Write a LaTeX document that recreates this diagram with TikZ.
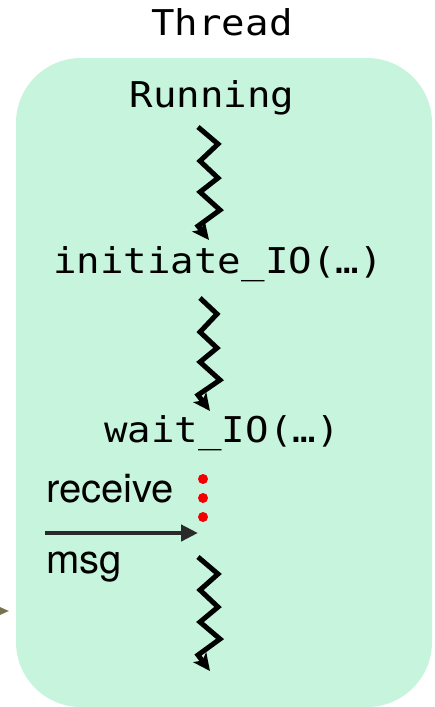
\documentclass[tikz,border=0pt]{standalone}
\usepackage{fontspec}
\setmainfont{TeX Gyre Heros}
\setmonofont[FakeStretch=1.1]{DejaVu Sans Mono}
\usepackage{tikz}
\usetikzlibrary{%
    arrows.meta,
    positioning,
    calc
}
\definecolor{threadFill}{HTML}{C7F4DC}
\definecolor{msgDark}{HTML}{2A2A2A}
\definecolor{inOlive}{HTML}{77714F}
\definecolor{waitRed}{HTML}{F40000}

\begin{document}
\begin{tikzpicture}[x=1pt, y=-1pt,
                code/.style={font=\ttfamily\fontsize{35.5}{40}\selectfont, inner sep=0pt, anchor=base},
                word/.style={font=\fontsize{40}{44}\selectfont, inner sep=0pt, anchor=base west},
                thread/.style={fill=threadFill, draw=none, rounded corners=65pt},
                wiggle/.style={draw, line width=5pt, line join=miter, -{Stealth[length=17pt, width=16pt, inset=4pt]}},
                msg/.style={draw, msgDark, line width=4.5pt, -{Triangle[length=17pt, width=16pt]}},
                incoming/.style={draw, inOlive, line width=2pt, -{Triangle[length=12pt, width=10pt]}}
            ]

            \useasboundingbox (0,0) rectangle (434,707);

            % the thread box
            \draw [thread] (16,58) rectangle (432,707);
            \node (title) [code] at (222,35) {Thread};

            % steps
            \node (run) [code] at (212,107) {Running};
            \node (init) [code] at (218,273) {initiate\_IO(…)};
            \node (wait) [code] at (222,442) {wait\_IO(…)};

            \coordinate (zz1) at (198,127);
            \coordinate (zz2) at (200,298);
            \coordinate (zz3) at (198,557);
            \coordinate (tip1) at (209,240);
            \coordinate (tip2) at (210,411);
            \coordinate (tip3) at (210,671);

            \draw [wiggle] (zz1) -- ++(20,17) -- ++(-18,17) -- ++(18,17) -- ++(-18,14) -- ++(20,18) -- ++(-22,16) -- (tip1);
            \draw [wiggle] (zz2) -- ++(17,16) -- ++(-17,18) -- ++(17,16) -- ++(-17,14) -- ++(20,18) -- ++(-22,15) -- (tip2);
            \draw [wiggle] (zz3) -- ++(20,17) -- ++(-18,16) -- ++(18,17) -- ++(-18,15) -- ++(20,17) -- ++(-22,16) -- (tip3);

            % blocked on the message
            \foreach \y in {479,498,517}
                \fill [waitRed] (203,\y) circle (5pt);

            \node (recv) [word] at (46,502) {receive};
            \node (msgtxt) [word] at (46,573) {msg};
            \coordinate (msgfrom) at (45,533);
            \coordinate (msgto) at (198,533);
            \draw [msg] (msgfrom) -- (msgto);

            % arrow coming in from the left
            \coordinate (infrom) at (-30,611);
            \coordinate (into) at (9,611);
            \draw [incoming] (infrom) -- (into);
        \end{tikzpicture}
\end{document}
